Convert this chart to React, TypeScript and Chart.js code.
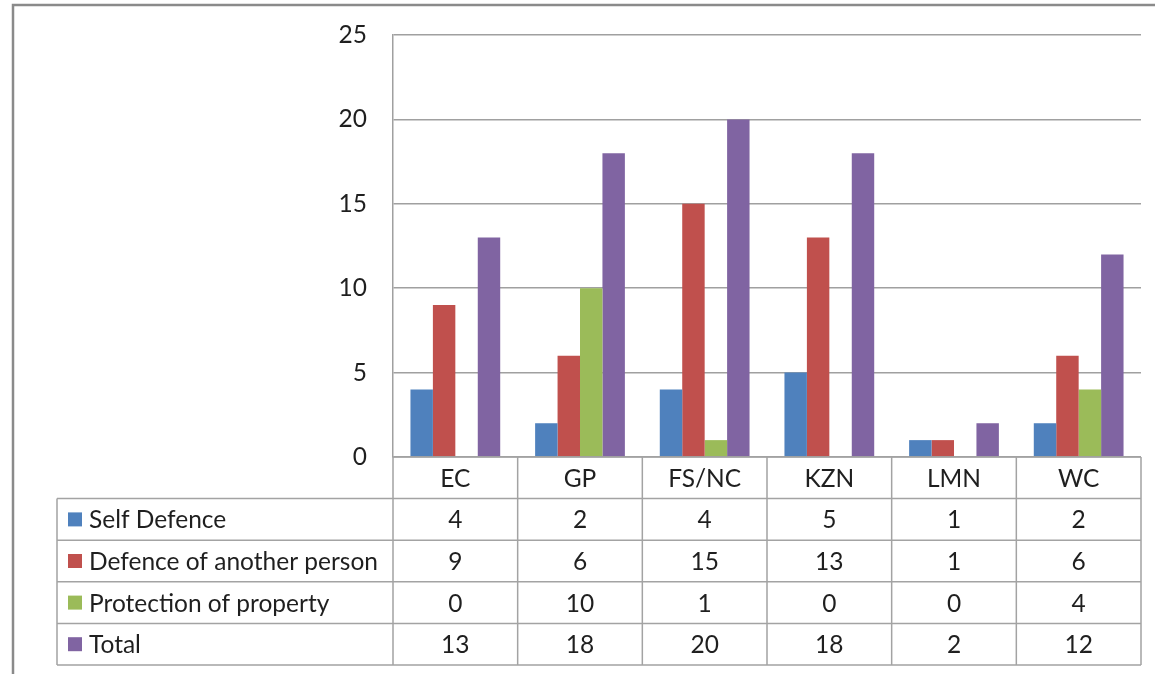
import { useEffect, useRef } from "react";
import { Chart, registerables } from "chart.js";

Chart.register(...registerables);

// Provinces (columns of the chart and of the data table)
const provinces = ["EC", "GP", "FS/NC", "KZN", "LMN", "WC"];

// Series values per province
const selfDefence = [4, 2, 4, 5, 1, 2];
const defenceOfAnother = [9, 6, 15, 13, 1, 6];
const protectionOfProperty = [0, 10, 1, 0, 0, 4];
const total = [13, 18, 20, 18, 2, 12];

const seriesNames = [
  "Self Defence",
  "Defence of another person",
  "Protection of property",
  "Total",
];
const seriesColors = ["#4F81BD", "#C0504D", "#9BBB59", "#8064A2"];

// Value axis
const yMin = 0;
const yMax = 25;
const yStep = 5;

const FONT = "Lato, 'Open Sans', sans-serif";
const TEXT = "#1f1f1f";
const GRID = "#a0a0a0";
const TABLE_LINE = "#a3a3a3";

// Outer frame of the chart object (top and left edges are visible)
const framePlugin = {
  id: "frame",
  beforeDraw(chart: any) {
    const { ctx, width, height } = chart;
    ctx.save();
    ctx.strokeStyle = "#8a8a8a";
    ctx.lineWidth = 2.5;
    ctx.beginPath();
    ctx.moveTo(13, height + 2);
    ctx.lineTo(13, 5);
    ctx.lineTo(width + 2, 5);
    ctx.stroke();
    ctx.restore();
  },
};

// Data table under the plot, aligned to the category axis
const dataTablePlugin = {
  id: "dataTable",
  afterDraw(chart: any) {
    const { ctx, chartArea } = chart;
    const x = chart.scales.x;
    const n = provinces.length;
    const colW = x.getPixelForValue(1) - x.getPixelForValue(0);
    const top = chartArea.bottom;
    const rowH = 41.6;
    const labelLeft = 57;
    const right = chartArea.right;
    const rows = chart.data.datasets.length;
    const bottom = top + rowH * (rows + 1);

    ctx.save();
    ctx.strokeStyle = TABLE_LINE;
    ctx.lineWidth = 1.5;
    ctx.beginPath();
    // horizontal rules
    ctx.moveTo(chartArea.left, top);
    ctx.lineTo(right, top);
    for (let r = 1; r <= rows + 1; r++) {
      const y = top + rowH * r;
      ctx.moveTo(labelLeft, y);
      ctx.lineTo(right, y);
    }
    // vertical rules
    for (let i = 0; i <= n; i++) {
      const xx = x.getPixelForValue(0) - colW / 2 + colW * i;
      ctx.moveTo(xx, top);
      ctx.lineTo(xx, bottom);
    }
    ctx.moveTo(labelLeft, top + rowH);
    ctx.lineTo(labelLeft, bottom);
    ctx.stroke();

    ctx.fillStyle = TEXT;
    ctx.font = `24.5px ${FONT}`;
    ctx.textBaseline = "middle";
    ctx.textAlign = "center";
    // header: category names
    provinces.forEach((p, i) => {
      ctx.fillText(p, x.getPixelForValue(i), top + rowH / 2 + 1);
    });

    chart.data.datasets.forEach((ds: any, r: number) => {
      const cy = top + rowH * (r + 1) + rowH / 2 + 1;
      // legend key
      ctx.fillStyle = ds.backgroundColor;
      ctx.fillRect(68, cy - 8, 14, 14);
      ctx.fillStyle = TEXT;
      ctx.textAlign = "left";
      ctx.fillText(ds.label, 89, cy);
      ctx.textAlign = "center";
      ds.data.forEach((v: number, i: number) => {
        ctx.fillText(String(v), x.getPixelForValue(i), cy);
      });
    });
    ctx.restore();
  },
};

export default function App() {
  const canvasRef = useRef<HTMLCanvasElement | null>(null);

  useEffect(() => {
    const canvas = canvasRef.current;
    if (!canvas) return;
    const values = [selfDefence, defenceOfAnother, protectionOfProperty, total];
    const chart = new Chart(canvas, {
      type: "bar",
      data: {
        labels: provinces,
        datasets: values.map((data, i) => ({
          label: seriesNames[i],
          data,
          backgroundColor: seriesColors[i],
          borderWidth: 0,
          categoryPercentage: 0.72,
          barPercentage: 1.0,
        })),
      },
      options: {
        responsive: false,
        animation: false,
        devicePixelRatio: 1,
        layout: { padding: { left: 0, top: 35, right: 14, bottom: 217 } },
        plugins: {
          legend: { display: false },
          title: { display: false },
          tooltip: { enabled: false },
        },
        scales: {
          x: {
            display: false,
            grid: { display: false },
          },
          y: {
            min: yMin,
            max: yMax,
            afterFit: (axis: any) => {
              axis.width = 393;
            },
            ticks: {
              stepSize: yStep,
              padding: 0,
              color: TEXT,
              font: { family: FONT, size: 24.5 },
            },
            grid: {
              color: GRID,
              lineWidth: 1.5,
              drawTicks: true,
              tickLength: 26,
              tickColor: "rgba(0,0,0,0)",
            },
            border: { display: true, color: GRID, width: 1.5 },
          },
        },
      },
      plugins: [framePlugin, dataTablePlugin],
    });
    return () => chart.destroy();
  }, []);

  return (
    <div style={{ position: "absolute", left: 0, top: 0, width: 1155, height: 674 }}>
      <canvas ref={canvasRef} width={1155} height={674} />
    </div>
  );
}
